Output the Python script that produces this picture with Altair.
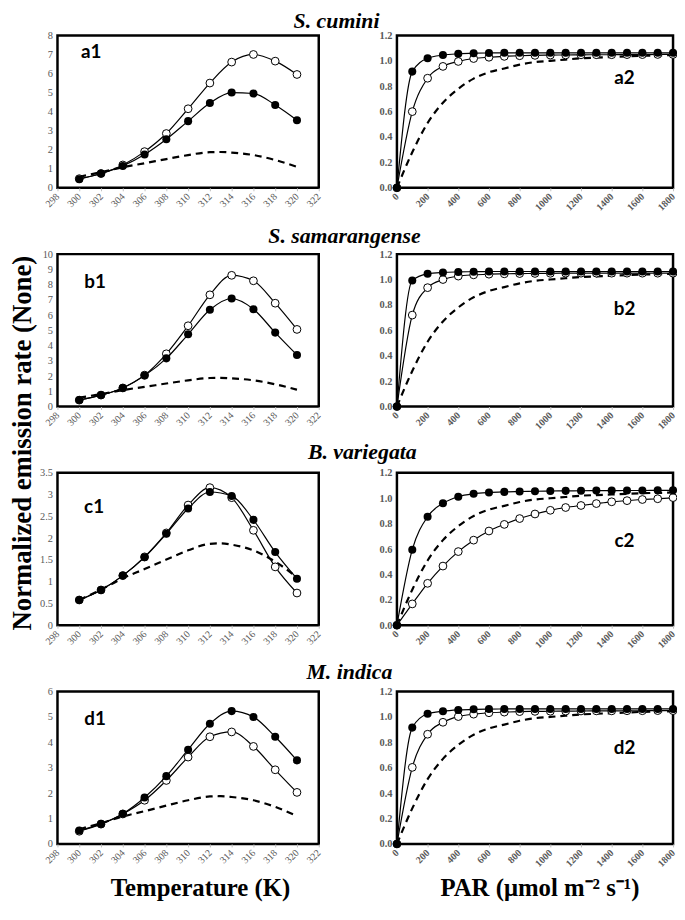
import altair as alt
import pandas as pd

# ---------------- data ----------------
SPECIES = ["S. cumini", "S. samarangense", "B. variegata", "M. indica"]
LEFT_LABELS = ["a1", "b1", "c1", "d1"]
RIGHT_LABELS = ["a2", "b2", "c2", "d2"]
Y_TITLE = "Normalized emission rate (None)"
X_TITLES = ["Temperature (K)", "PAR (\u03bcmol m\u207b\u00b2 s\u207b\u00b9)"]

TEMP_X = [300, 302, 304, 306, 308, 310, 312, 314, 316, 318, 320]
TEMP_MODEL_X = [300, 302, 304, 306, 308, 310, 312, 313, 314, 316, 318, 320]
TEMP_MODEL_Y = [0.58, 0.82, 1.08, 1.29, 1.51, 1.72, 1.87, 1.88, 1.85, 1.72, 1.46, 1.10]

A1_OPEN = [0.48, 0.75, 1.20, 1.90, 2.85, 4.15, 5.50, 6.60, 7.00, 6.65, 5.95]
A1_FILLED = [0.45, 0.75, 1.15, 1.75, 2.55, 3.50, 4.45, 5.00, 4.95, 4.35, 3.55]
B1_OPEN = [0.42, 0.75, 1.22, 2.06, 3.46, 5.30, 7.33, 8.61, 8.25, 6.78, 5.06]
B1_FILLED = [0.43, 0.75, 1.22, 2.03, 3.16, 4.74, 6.35, 7.09, 6.39, 4.85, 3.38]
C1_OPEN = [0.58, 0.81, 1.14, 1.57, 2.12, 2.76, 3.16, 2.93, 2.18, 1.34, 0.74]
C1_FILLED = [0.58, 0.81, 1.14, 1.56, 2.10, 2.68, 3.06, 2.97, 2.42, 1.68, 1.07]
D1_OPEN = [0.50, 0.78, 1.18, 1.72, 2.50, 3.42, 4.22, 4.41, 3.84, 2.92, 2.03]
D1_FILLED = [0.53, 0.79, 1.19, 1.83, 2.67, 3.71, 4.73, 5.23, 5.00, 4.22, 3.29]

PAR_X = [0, 100, 200, 300, 400, 500, 600, 700, 800, 900, 1000,
         1100, 1200, 1300, 1400, 1500, 1600, 1700, 1800]
PAR_MODEL_Y = [0.0, 0.28, 0.51, 0.67, 0.78, 0.86, 0.91, 0.94, 0.97, 0.99, 1.00,
               1.01, 1.02, 1.025, 1.03, 1.035, 1.04, 1.042, 1.045]

A2_OPEN = [0.0, 0.60, 0.863, 0.956, 0.995, 1.018, 1.028, 1.035, 1.040, 1.043, 1.045,
           1.046, 1.047, 1.048, 1.048, 1.049, 1.049, 1.050, 1.050]
A2_FILLED = [0.0, 0.915, 1.020, 1.045, 1.055, 1.060, 1.062, 1.063, 1.063, 1.063, 1.063,
             1.063, 1.063, 1.063, 1.063, 1.063, 1.063, 1.063, 1.063]
B2_OPEN = [0.0, 0.72, 0.936, 1.000, 1.027, 1.037, 1.042, 1.045, 1.047, 1.048, 1.049,
           1.050, 1.050, 1.050, 1.050, 1.050, 1.050, 1.050, 1.050]
B2_FILLED = [0.0, 0.993, 1.045, 1.056, 1.060, 1.062, 1.063, 1.063, 1.063, 1.063, 1.063,
             1.063, 1.063, 1.063, 1.063, 1.063, 1.063, 1.063, 1.063]
C2_OPEN = [0.0, 0.168, 0.330, 0.466, 0.580, 0.670, 0.742, 0.794, 0.840, 0.876, 0.905,
           0.927, 0.943, 0.958, 0.972, 0.981, 0.990, 0.996, 1.005]
C2_FILLED = [0.0, 0.595, 0.855, 0.960, 1.012, 1.035, 1.045, 1.050, 1.053, 1.055, 1.057,
             1.058, 1.059, 1.060, 1.060, 1.061, 1.061, 1.062, 1.062]
D2_OPEN = [0.0, 0.603, 0.864, 0.958, 1.003, 1.022, 1.033, 1.038, 1.042, 1.044, 1.045,
           1.046, 1.047, 1.048, 1.048, 1.049, 1.049, 1.050, 1.050]
D2_FILLED = [0.0, 0.916, 1.025, 1.045, 1.055, 1.060, 1.062, 1.063, 1.063, 1.063, 1.063,
             1.063, 1.063, 1.063, 1.063, 1.063, 1.063, 1.063, 1.063]

TEMP_OPEN = [A1_OPEN, B1_OPEN, C1_OPEN, D1_OPEN]
TEMP_FILLED = [A1_FILLED, B1_FILLED, C1_FILLED, D1_FILLED]
TEMP_YMAX = [8, 10, 3.5, 6]
TEMP_YSTEP = [1, 1, 0.5, 1]
PAR_OPEN = [A2_OPEN, B2_OPEN, C2_OPEN, D2_OPEN]
PAR_FILLED = [A2_FILLED, B2_FILLED, C2_FILLED, D2_FILLED]

# ---------------- layout / style ----------------
SERIF = "Liberation Serif"
LW, RW, PH = 264, 279, 154
COL_GAP, ROW_GAP = 79, 67
PAD_LEFT, PAD_TOP = 50, 23
SVG_W, SVG_H = 676, 899
LEFT_LABEL_POS = [(34, 17), (38, 28), (37, 35), (38, 28)]
RIGHT_LABEL_POS = [(230, 43), (230, 56), (230, 69), (230, 57)]
ROW_TITLE_POS = [(282, -7), (290, -11), (308, -14), (295, -13)]
Y_TITLE_POS = (-35, -30)   # placed in the third left panel


def df(xs, ys):
    return pd.DataFrame({"x": xs, "y": ys})


def text_layer(t, pos, **style):
    return alt.Chart(pd.DataFrame({"t": [t]})).mark_text(**style).encode(
        x=alt.value(pos[0]), y=alt.value(pos[1]), text="t:N")


def panel(kind, open_y, filled_y, ymax, ystep, label, lpos, width,
          xtitle=None, row_title=None, rpos=None, ytitle=False):
    if kind == "T":
        xs, mx, my = TEMP_X, TEMP_MODEL_X, TEMP_MODEL_Y
        xdom, xvals = [298, 322], list(range(298, 323, 2))
        yfmt, lw = "~f", "normal"
    else:
        xs, mx, my = PAR_X, PAR_X, PAR_MODEL_Y
        xdom, xvals = [0, 1800], list(range(0, 1801, 200))
        yfmt, lw = ".1f", "bold"
    n = int(round(ymax / ystep))
    yvals = [round(i * ystep, 2) for i in range(n + 1)]

    axis_kw = dict(values=xvals, format="d", labelAngle=-45, labelFont=SERIF,
                   labelFontSize=10, labelColor="#595959", labelFontWeight=lw,
                   labelBaseline="middle", labelAlign="right",
                   domain=False, ticks=True, tickSize=3, tickColor="#c0c0c0",
                   grid=False, labelOverlap=False, labelPadding=4)
    if xtitle is not None:
        axis_kw.update(title=xtitle, titleFont=SERIF, titleFontSize=25,
                       titleFontWeight="bold", titleColor="black",
                       titleX=144, titleY=52, titleBaseline="alphabetic",
                       titleAlign="center", titleAnchor="start")
    else:
        axis_kw.update(title=None)
    xaxis = alt.Axis(**axis_kw)
    yaxis = alt.Axis(values=yvals, format=yfmt, labelFont=SERIF, labelFontSize=10.5,
                     labelColor="#595959", labelFontWeight=lw, domain=False,
                     ticks=False, grid=False, labelPadding=5, title=None,
                     labelOverlap=False)
    X = alt.X("x:Q", scale=alt.Scale(domain=xdom, nice=False, zero=False), axis=xaxis)
    Y = alt.Y("y:Q", scale=alt.Scale(domain=[0, ymax], nice=False, zero=True), axis=yaxis)

    layers = [
        alt.Chart(df(mx, my)).mark_line(
            color="black", strokeWidth=2.2, strokeDash=[7, 5], interpolate="monotone"
        ).encode(x=X, y=Y),
        alt.Chart(df(xs, open_y)).mark_line(
            color="black", strokeWidth=1.2, interpolate="monotone").encode(x=X, y=Y),
        alt.Chart(df(xs, open_y)).mark_circle(
            fill="white", stroke="black", strokeWidth=1, size=62, opacity=1
        ).encode(x=X, y=Y),
        alt.Chart(df(xs, filled_y)).mark_line(
            color="black", strokeWidth=1.2, interpolate="monotone").encode(x=X, y=Y),
        alt.Chart(df(xs, filled_y)).mark_circle(
            color="black", size=66, opacity=1).encode(x=X, y=Y),
        text_layer(label, lpos, font="Lato", fontSize=19, fontWeight="bold",
                   align="center", baseline="middle", color="black"),
    ]
    if row_title is not None:
        layers.append(text_layer(row_title, rpos, font=SERIF, fontSize=22,
                                 fontStyle="italic", fontWeight="bold",
                                 align="center", baseline="alphabetic",
                                 color="black"))
    if ytitle:
        layers.append(text_layer(Y_TITLE, Y_TITLE_POS, font=SERIF, fontSize=27,
                                 fontWeight="bold", angle=270, align="center",
                                 baseline="middle", color="black"))
    return alt.layer(*layers).properties(width=width, height=PH)


panels = []
for i in range(4):
    last = i == 3
    left = panel("T", TEMP_OPEN[i], TEMP_FILLED[i], TEMP_YMAX[i], TEMP_YSTEP[i],
                 LEFT_LABELS[i], LEFT_LABEL_POS[i], LW,
                 xtitle=X_TITLES[0] if last else None,
                 row_title=SPECIES[i], rpos=ROW_TITLE_POS[i], ytitle=(i == 2))
    right = panel("P", PAR_OPEN[i], PAR_FILLED[i], 1.2, 0.2,
                  RIGHT_LABELS[i], RIGHT_LABEL_POS[i], RW,
                  xtitle=X_TITLES[1] if last else None)
    panels += [left, right]

chart = alt.concat(*panels, columns=2, spacing={"row": ROW_GAP, "column": COL_GAP},
                   bounds="flush").properties(
    autosize=alt.AutoSizeParams(type="none"),
    padding={"left": PAD_LEFT, "top": PAD_TOP,
             "right": SVG_W - PAD_LEFT, "bottom": SVG_H - PAD_TOP},
).configure_view(stroke="black", strokeWidth=2.5)

chart.save("out.html", embed_options={"renderer": "svg", "actions": False})
